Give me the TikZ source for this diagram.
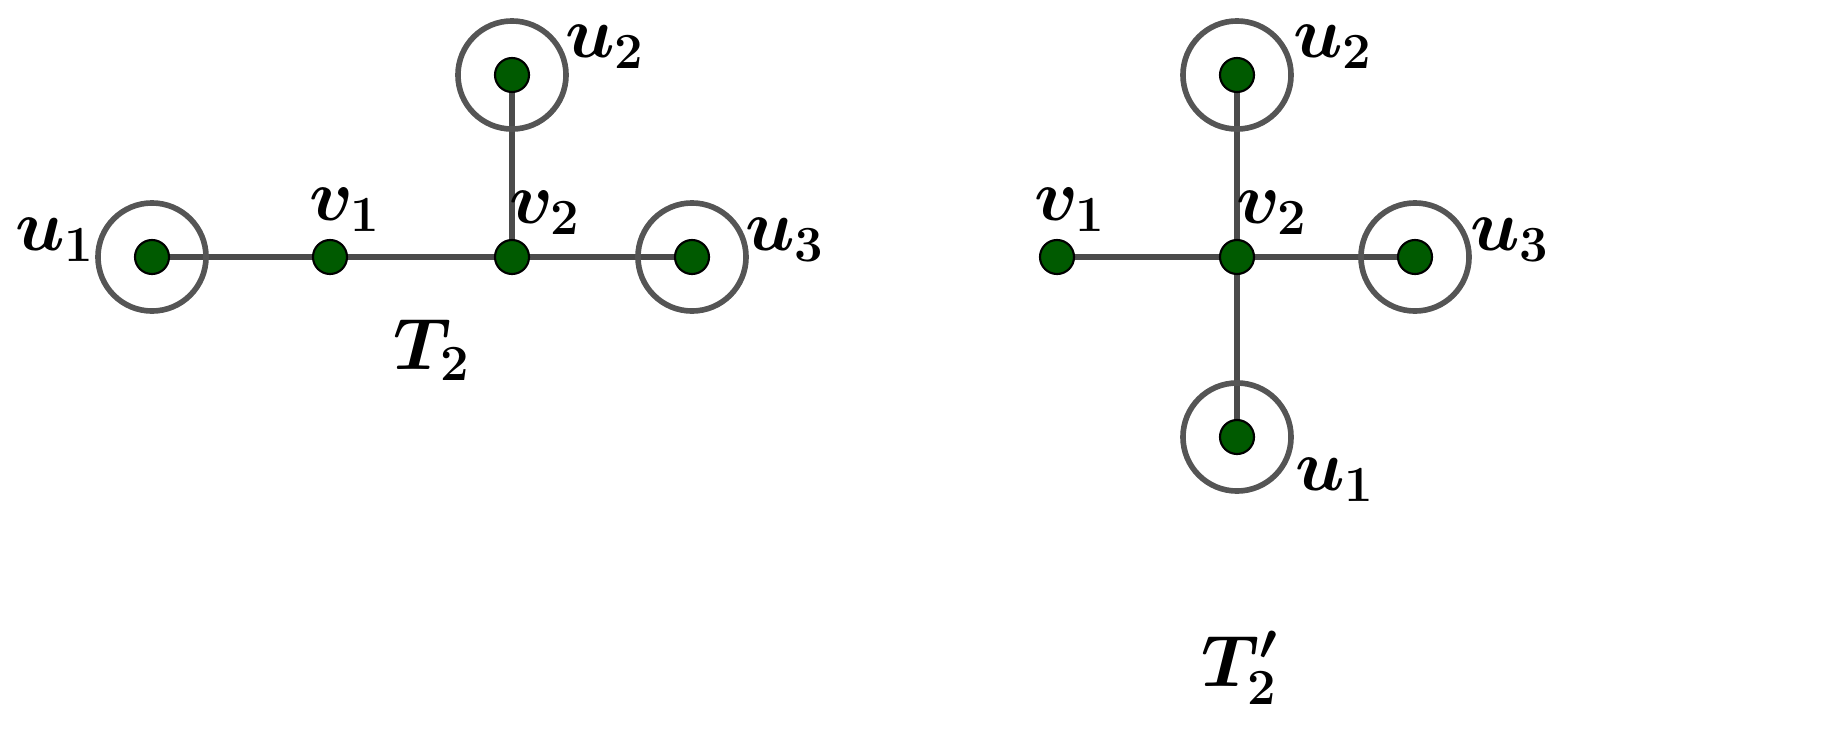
\documentclass[tikz,border=0pt]{standalone}
\usepackage{amsmath,bm}
\begin{document}
\begin{tikzpicture}[x=0.01cm,y=-0.01cm,
  vtx/.style={circle,fill={rgb,255:red,0;green,90;blue,0},draw=black,line width=0.6pt,minimum size=0.34cm,inner sep=0pt},
  ring/.style={circle,draw={rgb,255:red,85;green,85;blue,85},line width=1.6pt,minimum size=1.08cm,inner sep=0pt},
  edge/.style={draw={rgb,255:red,75;green,75;blue,75},line width=1.8pt},
  lab/.style={font=\fontsize{22}{26}\selectfont}]
\useasboundingbox (0,0) rectangle (1842,742);
% left tree
\coordinate (a1) at (152,257);
\coordinate (b1) at (330,257);
\coordinate (b2) at (512,257);
\coordinate (a2) at (512,75);
\coordinate (a3) at (692,257);
\path[edge] (a1) -- (b1) -- (b2) -- (a3) (b2) -- (a2);
\node[ring] (r1) at (a1) {};
\node[ring] (r2) at (a2) {};
\node[ring] (r3) at (a3) {};
\foreach \p in {a1,b1,b2,a2,a3} \node[vtx] (n\p) at (\p) {};
\node[lab] (l1) at (55,240) {$\bm{u_1}$};
\node[lab] (l2) at (345,210) {$\bm{v_1}$};
\node[lab] (l3) at (545,213) {$\bm{v_2}$};
\node[lab] (l4) at (605,47) {$\bm{u_2}$};
\node[lab] (l5) at (785,240) {$\bm{u_3}$};
\node[lab] (t1) at (432,350) {$\bm{T_2}$};
% right tree
\coordinate (c1) at (1057,257);
\coordinate (c2) at (1237,257);
\coordinate (d2) at (1237,75);
\coordinate (d3) at (1415,257);
\coordinate (d1) at (1237,437);
\path[edge] (c1) -- (c2) -- (d3) (d2) -- (d1);
\node[ring] (s2) at (d2) {};
\node[ring] (s3) at (d3) {};
\node[ring] (s1) at (d1) {};
\foreach \p in {c1,c2,d1,d2,d3} \node[vtx] (n\p) at (\p) {};
\node[lab] (m1) at (1070,210) {$\bm{v_1}$};
\node[lab] (m2) at (1272,213) {$\bm{v_2}$};
\node[lab] (m3) at (1333,47) {$\bm{u_2}$};
\node[lab] (m4) at (1510,240) {$\bm{u_3}$};
\node[lab] (m5) at (1335,480) {$\bm{u_1}$};
\node[lab] (t2) at (1240,668) {$\bm{T_2'}$};
\end{tikzpicture}
\end{document}
